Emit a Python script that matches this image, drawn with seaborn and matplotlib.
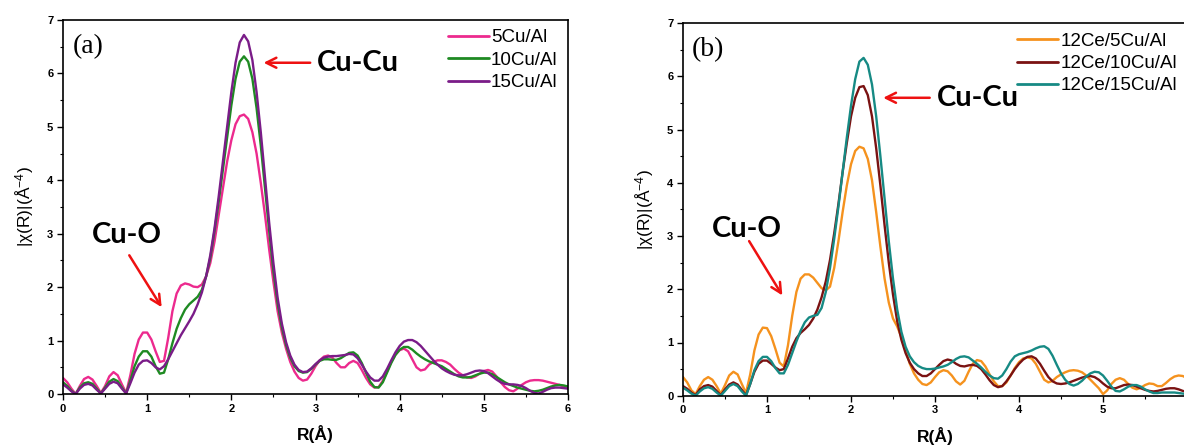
import numpy as np
import pandas as pd
import matplotlib
matplotlib.use("Agg")
import matplotlib.pyplot as plt
import seaborn as sns
from matplotlib.ticker import MultipleLocator

# ---------------- data ----------------
R = [round(0.05 * i, 2) for i in range(121)]

cu5 = [0.30, 0.22, 0.10, 0.00, 0.15, 0.28, 0.32, 0.27, 0.15, 0.02,
       0.15, 0.33, 0.41, 0.35, 0.18, 0.02, 0.35, 0.75, 1.02, 1.15,
       1.15, 1.02, 0.80, 0.60, 0.62, 1.05, 1.55, 1.88, 2.03, 2.07,
       2.05, 2.01, 2.00, 2.05, 2.20, 2.45, 2.85, 3.35, 3.85, 4.35,
       4.75, 5.05, 5.20, 5.23, 5.15, 4.90, 4.50, 3.95, 3.35, 2.70,
       2.10, 1.55, 1.15, 0.85, 0.60, 0.42, 0.30, 0.25, 0.27, 0.38,
       0.52, 0.63, 0.70, 0.72, 0.68, 0.58, 0.50, 0.50, 0.58, 0.62,
       0.58, 0.45, 0.30, 0.18, 0.12, 0.13, 0.25, 0.42, 0.60, 0.74,
       0.82, 0.85, 0.80, 0.65, 0.50, 0.44, 0.46, 0.55, 0.60, 0.63,
       0.63, 0.60, 0.55, 0.47, 0.40, 0.35, 0.31, 0.30, 0.33, 0.38,
       0.43, 0.45, 0.42, 0.33, 0.22, 0.13, 0.07, 0.05, 0.10, 0.17,
       0.22, 0.25, 0.26, 0.26, 0.25, 0.23, 0.21, 0.19, 0.17, 0.14,
       0.12]

cu10 = [0.22, 0.15, 0.06, 0.00, 0.12, 0.20, 0.22, 0.19, 0.10, 0.01,
        0.12, 0.23, 0.28, 0.24, 0.12, 0.01, 0.25, 0.52, 0.70, 0.80,
        0.80, 0.70, 0.52, 0.38, 0.40, 0.65, 0.95, 1.22, 1.42, 1.58,
        1.68, 1.75, 1.82, 1.95, 2.20, 2.55, 3.05, 3.60, 4.20, 4.80,
        5.40, 5.90, 6.22, 6.32, 6.22, 5.90, 5.35, 4.65, 3.85, 3.05,
        2.30, 1.70, 1.25, 0.92, 0.68, 0.52, 0.43, 0.40, 0.41, 0.47,
        0.55, 0.62, 0.65, 0.65, 0.64, 0.64, 0.67, 0.72, 0.77, 0.78,
        0.72, 0.58, 0.40, 0.23, 0.13, 0.12, 0.22, 0.40, 0.58, 0.73,
        0.83, 0.88, 0.88, 0.83, 0.76, 0.70, 0.65, 0.61, 0.58, 0.55,
        0.52, 0.47, 0.42, 0.37, 0.33, 0.31, 0.31, 0.32, 0.35, 0.38,
        0.40, 0.40, 0.37, 0.32, 0.27, 0.22, 0.18, 0.15, 0.12, 0.10,
        0.08, 0.06, 0.05, 0.06, 0.08, 0.11, 0.14, 0.16, 0.17, 0.16,
        0.14]

cu15 = [0.18, 0.12, 0.05, 0.00, 0.10, 0.17, 0.19, 0.16, 0.08, 0.01,
        0.10, 0.19, 0.23, 0.20, 0.10, 0.01, 0.20, 0.40, 0.55, 0.62,
        0.63, 0.58, 0.50, 0.46, 0.52, 0.65, 0.80, 0.95, 1.10, 1.23,
        1.36, 1.50, 1.68, 1.90, 2.20, 2.60, 3.10, 3.70, 4.35, 5.00,
        5.65, 6.20, 6.58, 6.72, 6.60, 6.25, 5.65, 4.90, 4.05, 3.20,
        2.45, 1.80, 1.32, 0.97, 0.72, 0.55, 0.45, 0.41, 0.42, 0.48,
        0.56, 0.63, 0.68, 0.70, 0.71, 0.71, 0.72, 0.73, 0.75, 0.74,
        0.67, 0.55, 0.42, 0.31, 0.25, 0.25, 0.33, 0.47, 0.63, 0.78,
        0.90, 0.98, 1.01, 1.01, 0.97, 0.90, 0.81, 0.72, 0.63, 0.55,
        0.48, 0.43, 0.39, 0.36, 0.35, 0.35, 0.37, 0.40, 0.43, 0.44,
        0.43, 0.39, 0.33, 0.27, 0.22, 0.19, 0.18, 0.18, 0.17, 0.15,
        0.11, 0.06, 0.02, 0.01, 0.04, 0.08, 0.11, 0.12, 0.12, 0.11,
        0.10]

ce_cu5 = [0.35, 0.25, 0.10, 0.03, 0.18, 0.30, 0.35, 0.30, 0.18, 0.04,
          0.20, 0.38, 0.45, 0.40, 0.22, 0.05, 0.40, 0.85, 1.15, 1.28,
          1.27, 1.12, 0.88, 0.62, 0.55, 0.95, 1.50, 1.95, 2.20, 2.28,
          2.28, 2.22, 2.12, 2.02, 1.98, 2.05, 2.40, 2.90, 3.45, 3.95,
          4.35, 4.60, 4.68, 4.65, 4.45, 4.05, 3.45, 2.80, 2.20, 1.75,
          1.45, 1.30, 1.10, 0.85, 0.60, 0.42, 0.30, 0.22, 0.20, 0.25,
          0.35, 0.44, 0.48, 0.46, 0.38, 0.27, 0.21, 0.28, 0.45, 0.60,
          0.67, 0.65, 0.55, 0.40, 0.27, 0.18, 0.18, 0.25, 0.38, 0.52,
          0.63, 0.70, 0.72, 0.70, 0.60, 0.45, 0.30, 0.25, 0.28, 0.35,
          0.40, 0.44, 0.47, 0.48, 0.47, 0.44, 0.38, 0.30, 0.22, 0.14,
          0.03, 0.10, 0.22, 0.30, 0.33, 0.30, 0.22, 0.15, 0.12, 0.15,
          0.20, 0.23, 0.22, 0.18, 0.18, 0.24, 0.31, 0.36, 0.38, 0.37,
          0.33]

ce_cu10 = [0.18, 0.13, 0.06, 0.01, 0.12, 0.18, 0.20, 0.17, 0.09, 0.01,
           0.12, 0.21, 0.25, 0.21, 0.11, 0.01, 0.22, 0.45, 0.60, 0.66,
           0.66, 0.60, 0.53, 0.48, 0.50, 0.70, 0.92, 1.08, 1.18, 1.25,
           1.33, 1.45, 1.62, 1.85, 2.15, 2.55, 3.05, 3.60, 4.20, 4.75,
           5.25, 5.60, 5.80, 5.82, 5.65, 5.25, 4.65, 3.95, 3.20, 2.50,
           1.90, 1.40, 1.05, 0.80, 0.62, 0.50, 0.42, 0.37, 0.37, 0.42,
           0.50, 0.58, 0.65, 0.68, 0.66, 0.60, 0.56, 0.55, 0.57, 0.58,
           0.56, 0.50, 0.40, 0.29, 0.20, 0.16, 0.18, 0.27, 0.38, 0.50,
           0.60, 0.68, 0.73, 0.74, 0.70, 0.60, 0.47, 0.35, 0.27, 0.23,
           0.22, 0.23, 0.25, 0.28, 0.31, 0.34, 0.36, 0.37, 0.35, 0.30,
           0.23, 0.17, 0.14, 0.14, 0.17, 0.20, 0.21, 0.20, 0.17, 0.14,
           0.11, 0.09, 0.08, 0.09, 0.11, 0.13, 0.14, 0.14, 0.12, 0.09,
           0.07]

ce_cu15 = [0.15, 0.10, 0.04, 0.00, 0.08, 0.14, 0.16, 0.13, 0.06, 0.00,
           0.09, 0.18, 0.22, 0.18, 0.08, 0.00, 0.22, 0.48, 0.65, 0.73,
           0.73, 0.65, 0.52, 0.42, 0.42, 0.58, 0.80, 1.02, 1.22, 1.38,
           1.47, 1.50, 1.52, 1.65, 1.95, 2.40, 2.95, 3.55, 4.20, 4.85,
           5.45, 5.95, 6.28, 6.35, 6.22, 5.85, 5.25, 4.50, 3.70, 2.90,
           2.20, 1.62, 1.20, 0.92, 0.74, 0.63, 0.56, 0.52, 0.50, 0.50,
           0.51, 0.53, 0.55, 0.58, 0.63, 0.69, 0.73, 0.74, 0.72, 0.66,
           0.60, 0.53, 0.45, 0.38, 0.33, 0.32, 0.38, 0.50, 0.64, 0.74,
           0.78, 0.80, 0.82, 0.85, 0.89, 0.92, 0.93, 0.88, 0.75, 0.58,
           0.42, 0.30, 0.22, 0.19, 0.22, 0.28, 0.36, 0.42, 0.45, 0.44,
           0.38, 0.28, 0.17, 0.09, 0.08, 0.12, 0.17, 0.20, 0.20, 0.17,
           0.12, 0.08, 0.05, 0.05, 0.06, 0.06, 0.06, 0.06, 0.05, 0.04,
           0.03]

labels_a = ["5Cu/Al", "10Cu/Al", "15Cu/Al"]
labels_b = ["12Ce/5Cu/Al", "12Ce/10Cu/Al", "12Ce/15Cu/Al"]
colors_a = ["#EC2A8E", "#1E8A22", "#7A1C88"]
colors_b = ["#F5921E", "#7A1212", "#168A84"]
x_ticks = [0, 1, 2, 3, 4, 5, 6]
y_ticks = [0, 1, 2, 3, 4, 5, 6, 7]

# ---------------- style ----------------
sns.set_style("ticks")
plt.rcParams["font.family"] = ["Liberation Sans", "DejaVu Sans"]
plt.rcParams["mathtext.fontset"] = "custom"
plt.rcParams["mathtext.rm"] = "Liberation Sans"
plt.rcParams["mathtext.it"] = "Liberation Sans"
for key in ["text.color", "axes.labelcolor", "xtick.color", "ytick.color",
            "axes.edgecolor"]:
    plt.rcParams[key] = "black"

fig = plt.figure(figsize=(11.84, 4.48), dpi=100)
ax_a = fig.add_axes([63 / 1184, 1 - 394 / 448, 505 / 1184, 374 / 448])
ax_b = fig.add_axes([683 / 1184, 1 - 395.7 / 448, 504 / 1184, 372.4 / 448])


def draw(ax, series, labels, colors, tag, cucu_y, cuo_text_y, cuo_arrow,
         leg_x):
    df = pd.DataFrame({"R": R * 3,
                       "val": sum([list(s) for s in series], []),
                       "sample": sum([[l] * len(R) for l in labels], [])})
    sns.lineplot(data=df, x="R", y="val", hue="sample", hue_order=labels,
                 palette=dict(zip(labels, colors)), sort=False,
                 errorbar=None, linewidth=1.7, ax=ax)
    ax.set_xlim(0, 6)
    ax.set_ylim(0, 7)
    ax.set_xticks(x_ticks)
    ax.set_yticks(y_ticks)
    ax.xaxis.set_minor_locator(MultipleLocator(0.5))
    ax.yaxis.set_minor_locator(MultipleLocator(0.5))
    ax.tick_params(which="major", direction="out", length=4, width=1,
                   labelsize=8, pad=3, color="black", labelcolor="black")
    ax.tick_params(which="minor", direction="out", length=2.5, width=0.8,
                   color="black")
    for lab in ax.get_xticklabels() + ax.get_yticklabels():
        lab.set_fontweight("bold")
    for sp in ax.spines.values():
        sp.set_visible(True)
        sp.set_linewidth(1.2)
        sp.set_color("black")
    ax.set_xlabel("R(Å)", fontsize=12.5, fontweight="bold", labelpad=8)
    ax.set_ylabel(r"|χ(R)|(Å$^{-4}$)", fontsize=12.5, labelpad=8)
    leg = ax.legend(loc="upper left", bbox_to_anchor=(leg_x, 0.975),
                    frameon=False, fontsize=13.5, handlelength=2.2,
                    handletextpad=0.1, labelspacing=0.28, borderpad=0,
                    borderaxespad=0)
    for ln in leg.get_lines():
        ln.set_linewidth(2)
    ax.text(0.11, 6.5, tag, family="Liberation Serif", fontsize=20,
            va="center", ha="left", color="black")
    ax.annotate("", xy=(2.35, cucu_y), xytext=(2.97, cucu_y),
                arrowprops=dict(arrowstyle="->", color="#EE1111", lw=1.8,
                                mutation_scale=18))
    ax.text(3.02, cucu_y, "Cu-Cu", family="Lato", fontweight="bold",
            fontsize=21, va="center", ha="left", color="black")
    ax.text(0.34, cuo_text_y, "Cu-O", family="Lato", fontweight="bold",
            fontsize=21, va="center", ha="left", color="black")
    (x0, y0), (x1, y1) = cuo_arrow
    ax.annotate("", xy=(x1, y1), xytext=(x0, y0),
                arrowprops=dict(arrowstyle="->", color="#EE1111", lw=1.8,
                                mutation_scale=18))


draw(ax_a, [cu5, cu10, cu15], labels_a, colors_a, "(a)", 6.2, 2.97,
     ((0.77, 2.64), (1.19, 1.58)), (448 - 63) / 505)
draw(ax_b, [ce_cu5, ce_cu10, ce_cu15], labels_b, colors_b, "(b)", 5.6, 3.14,
     ((0.77, 2.95), (1.20, 1.84)), (1017 - 683) / 504)

fig.savefig("out.png", dpi=100)
